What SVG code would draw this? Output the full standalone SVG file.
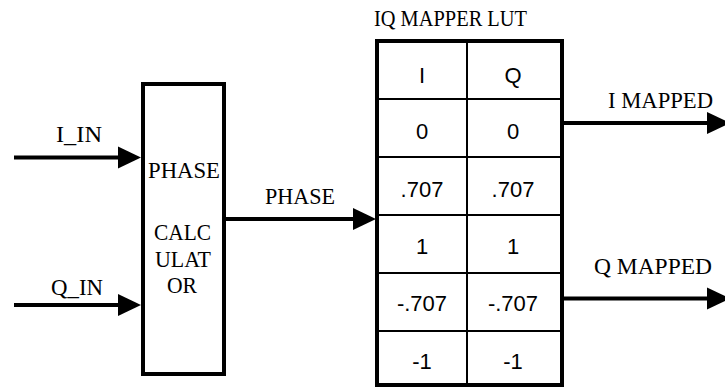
<svg xmlns="http://www.w3.org/2000/svg" width="725" height="389" viewBox="0 0 725 389">
<style>
.lbl{font-family:"Liberation Serif","Times New Roman",serif;font-size:22.5px;fill:#000}
.cell{font-family:"Liberation Sans",Arial,sans-serif;font-size:22px;fill:#000;text-anchor:middle}
.box{fill:#fff;stroke:#000;stroke-width:4}
.grid{stroke:#000;stroke-width:2;fill:none}
.wire{stroke:#000;stroke-width:4;fill:none}
</style>
<defs>
<marker id="ah" markerUnits="userSpaceOnUse" markerWidth="24" markerHeight="22" refX="0" refY="11" orient="auto" overflow="visible">
<path d="M0,0 L23,11 L0,22 Z" fill="#000"/>
</marker>
</defs>
<rect width="725" height="389" fill="#fff"/>
<g id="phase-calculator">
<rect class="box" x="143" y="84" width="81" height="290"/>
<text class="lbl" x="148" y="178" textLength="72" lengthAdjust="spacingAndGlyphs">PHASE</text>
<text class="lbl" x="154" y="240" textLength="57" lengthAdjust="spacingAndGlyphs">CALC</text>
<text class="lbl" x="155" y="267" textLength="56" lengthAdjust="spacingAndGlyphs">ULAT</text>
<text class="lbl" x="167" y="293" textLength="30" lengthAdjust="spacingAndGlyphs">OR</text>
</g>
<g id="iq-mapper-lut">
<text class="lbl" x="374" y="26" textLength="153" lengthAdjust="spacingAndGlyphs">IQ MAPPER LUT</text>
<rect class="box" x="377" y="41" width="185" height="344"/>
<path class="grid" d="M467,41 V385 M377,99 H562 M377,157 H562 M377,215 H562 M377,273 H562 M377,331 H562"/>
<text class="cell" x="422" y="83">I</text>
<text class="cell" x="513" y="83">Q</text>
<text class="cell" x="422" y="138.5">0</text>
<text class="cell" x="513" y="138.5">0</text>
<text class="cell" x="422" y="196.5">.707</text>
<text class="cell" x="513" y="196.5">.707</text>
<text class="cell" x="422" y="254">1</text>
<text class="cell" x="513" y="254">1</text>
<text class="cell" x="422" y="311">-.707</text>
<text class="cell" x="513" y="311">-.707</text>
<text class="cell" x="422" y="369">-1</text>
<text class="cell" x="513" y="369">-1</text>
</g>
<g id="connectors">
<line class="wire" x1="14" y1="157.5" x2="118" y2="157.5" marker-end="url(#ah)"/>
<line class="wire" x1="14" y1="305" x2="118" y2="305" marker-end="url(#ah)"/>
<line class="wire" x1="224" y1="219" x2="353" y2="219" marker-end="url(#ah)"/>
<line class="wire" x1="562" y1="123" x2="707" y2="123" marker-end="url(#ah)"/>
<line class="wire" x1="562" y1="298.5" x2="707" y2="298.5" marker-end="url(#ah)"/>
</g>
<g id="labels">
<text class="lbl" x="56" y="142" textLength="46" lengthAdjust="spacingAndGlyphs">I_IN</text>
<text class="lbl" x="51" y="295" textLength="52" lengthAdjust="spacingAndGlyphs">Q_IN</text>
<text class="lbl" x="265" y="204" textLength="70" lengthAdjust="spacingAndGlyphs">PHASE</text>
<text class="lbl" x="608" y="108" textLength="105" lengthAdjust="spacingAndGlyphs">I MAPPED</text>
<text class="lbl" x="594" y="274" textLength="118" lengthAdjust="spacingAndGlyphs">Q MAPPED</text>
</g>
</svg>
